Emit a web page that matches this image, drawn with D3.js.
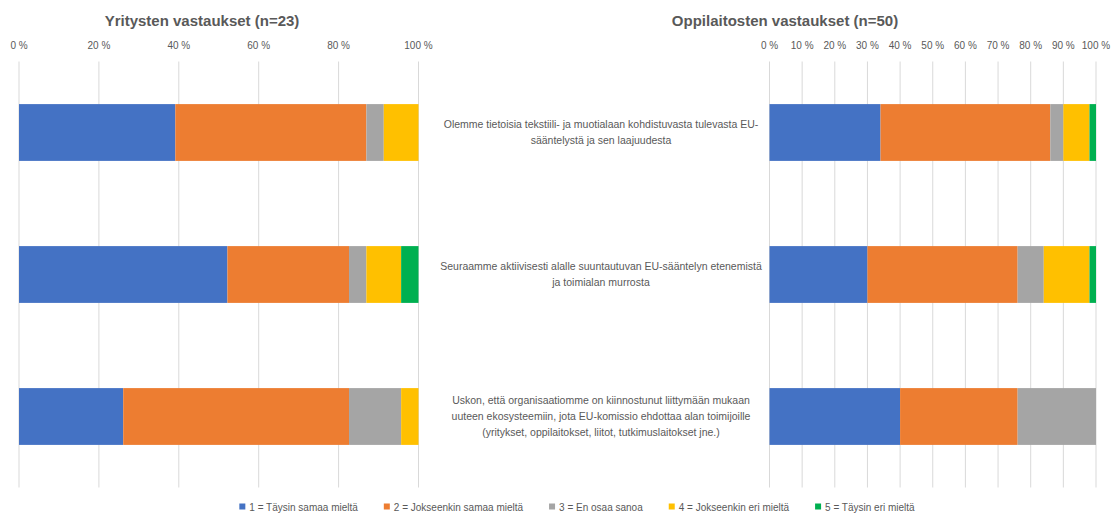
<!DOCTYPE html>
<html>
<head>
<meta charset="utf-8">
<script src="https://cdn.jsdelivr.net/npm/d3@7"></script>
<style>
  body { margin: 0; background: #fff; }
  svg { font-family: "Liberation Sans", Arial, sans-serif; }
</style>
</head>
<body>
<svg id="chart" width="1116" height="513"></svg>
<script>
// response categories (legend)
const seriesNames = ["1 = Täysin samaa mieltä", "2 = Jokseenkin samaa mieltä", "3 = En osaa sanoa", "4 = Jokseenkin eri mieltä", "5 = Täysin eri mieltä"];
const colors = ["#4472C4", "#ED7D31", "#A5A5A5", "#FFC000", "#00B050"];

// statements, pre-wrapped as shown
const questions = [
    ["Olemme tietoisia tekstiili- ja muotialaan kohdistuvasta tulevasta EU-", "sääntelystä ja sen laajuudesta"],
    ["Seuraamme aktiivisesti alalle suuntautuvan EU-sääntelyn etenemistä", "ja toimialan murrosta"],
    ["Uskon, että organisaatiomme on kiinnostunut liittymään mukaan", "uuteen ekosysteemiin, jota EU-komissio ehdottaa alan toimijoille", "(yritykset, oppilaitokset, liitot, tutkimuslaitokset jne.)"]
];

// yritykset (n=23), answer counts per question: [q1, q2, q3]
const yrityksetN = 23;
const yritykset = [
    [9, 12, 6],
    [11, 7, 13],
    [1, 1, 3],
    [2, 2, 1],
    [0, 1, 0]
];

// oppilaitokset (n=50)
const oppilaitoksetN = 50;
const oppilaitokset = [
    [17, 15, 20],
    [26, 23, 18],
    [2, 4, 12],
    [4, 7, 0],
    [1, 1, 0]
];

const leftTicks = [0, 0.2, 0.4, 0.6, 0.8, 1];
const rightTicks = [0, 0.1, 0.2, 0.3, 0.4, 0.5, 0.6, 0.7, 0.8, 0.9, 1];

const svg = d3.select("#chart");
const textColor = "#595959";
const pct = d => Math.round(d * 100) + " %";

let y = d3.scaleBand()
    .domain(questions.map((q, i) => i))
    .range([61.5, 487.5])
    .paddingInner(0.6)
    .paddingOuter(0.3);

function drawPanel(opts) {
    let x = d3.scaleLinear().domain([0, 1]).range([opts.x0, opts.x1]);

    let g = svg.append("g");

    // gridlines
    g.selectAll("line.grid")
        .data(opts.ticks)
        .join("line")
        .classed("grid", true)
        .attr("x1", d => x(d)).attr("x2", d => x(d))
        .attr("y1", 61.5).attr("y2", 487.5)
        .attr("stroke", "#d9d9d9")
        .attr("stroke-width", 1);

    // tick labels on top
    g.selectAll("text.tick")
        .data(opts.ticks)
        .join("text")
        .classed("tick", true)
        .attr("x", d => x(d))
        .attr("y", 49)
        .attr("text-anchor", "middle")
        .attr("font-size", 10)
        .attr("fill", textColor)
        .text(pct);

    // stacked data
    let rows = questions.map((q, i) => {
        let acc = 0;
        return opts.data.map((s, k) => {
            let v = s[i] / opts.n;
            let seg = { q: i, k: k, start: acc, end: acc + v };
            acc += v;
            return seg;
        });
    }).flat().filter(d => d.end > d.start);

    g.selectAll("rect.bar")
        .data(rows)
        .join("rect")
        .classed("bar", true)
        .attr("x", d => x(d.start))
        .attr("width", d => x(d.end) - x(d.start))
        .attr("y", d => y(d.q))
        .attr("height", y.bandwidth())
        .attr("fill", d => colors[d.k]);

    // title
    svg.append("text")
        .attr("x", opts.titleX)
        .attr("y", 26)
        .attr("text-anchor", "middle")
        .attr("font-size", 15)
        .attr("font-weight", "bold")
        .attr("fill", textColor)
        .text(opts.title);
}

drawPanel({ x0: 19, x1: 418.5, ticks: leftTicks, data: yritykset, n: yrityksetN,
    title: "Yritysten vastaukset (n=23)", titleX: 202 });
drawPanel({ x0: 769.5, x1: 1096, ticks: rightTicks, data: oppilaitokset, n: oppilaitoksetN,
    title: "Oppilaitosten vastaukset (n=50)", titleX: 785 });

// category labels for right panel
let catG = svg.append("g");
catG.selectAll("text.cat")
    .data(questions)
    .join("text")
    .classed("cat", true)
    .attr("font-size", 10.5)
    .attr("fill", textColor)
    .attr("text-anchor", "middle")
    .each(function(lines, i) {
        let cy = y(i) + y.bandwidth() / 2;
        let lh = 16;
        let top = cy - (lines.length - 1) * lh / 2;
        d3.select(this).selectAll("tspan")
            .data(lines)
            .join("tspan")
            .attr("x", 601)
            .attr("y", (d, j) => top + j * lh + 3.5)
            .text(d => d);
    });

// legend, laid out left to right then centred
let legG = svg.append("g");
let leg = legG.selectAll("g")
    .data(seriesNames)
    .join("g");

leg.append("rect")
    .attr("x", 0).attr("y", -3.5)
    .attr("width", 6).attr("height", 6)
    .attr("fill", (d, i) => colors[i]);

leg.append("text")
    .attr("x", 10)
    .attr("y", 3.5)
    .attr("font-size", 10)
    .attr("fill", textColor)
    .text(d => d);

let cursor = 0;
leg.each(function() {
    let w = d3.select(this).select("text").node().getComputedTextLength();
    d3.select(this).attr("transform", `translate(${cursor}, 0)`);
    cursor += 10 + w + 26;
});
let legW = cursor - 26;
legG.attr("transform", `translate(${577 - legW / 2}, 507)`);
</script>
</body>
</html>
